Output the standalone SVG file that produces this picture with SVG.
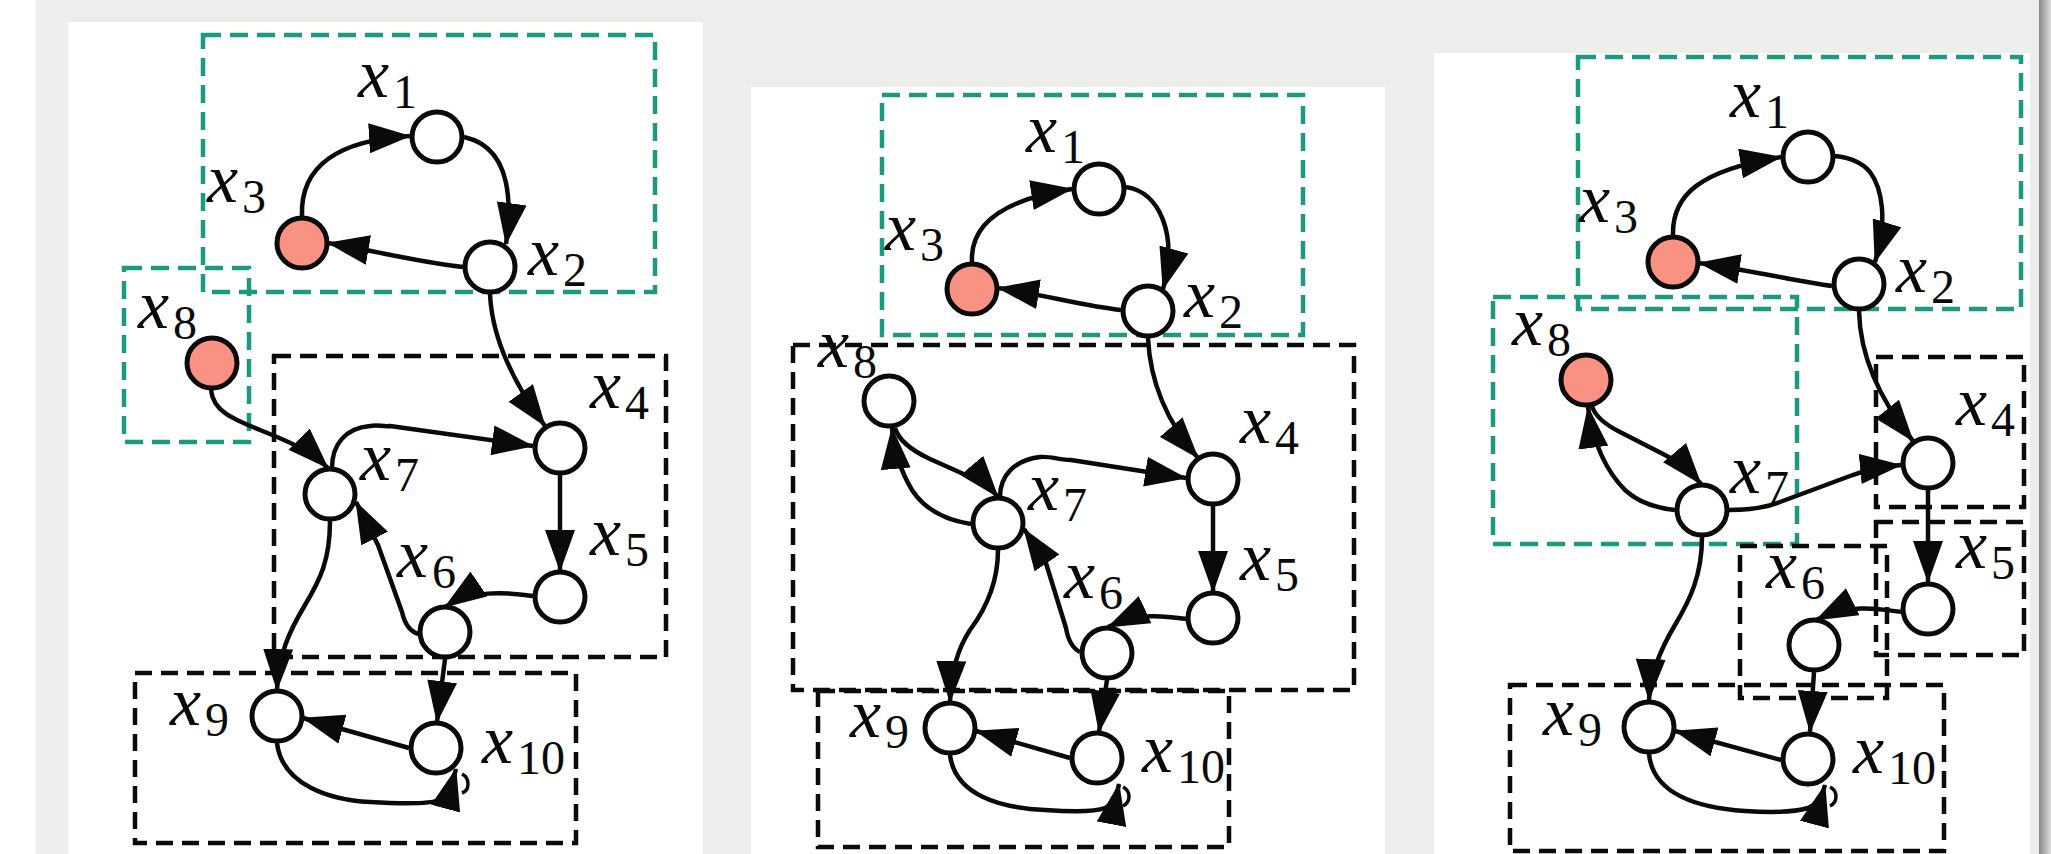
<svg xmlns="http://www.w3.org/2000/svg" width="2051" height="854" viewBox="0 0 2051 854">
  <defs>
    <style>
      .panel { fill: #ffffff; }
      .grp-teal { fill: none; stroke: #1c9a7f; stroke-width: 4.5; stroke-dasharray: 18 9; }
      .grp-black { fill: none; stroke: #0a0a0a; stroke-width: 4.5; stroke-dasharray: 17 9; }
      .node { fill: #ffffff; stroke: #0a0a0a; stroke-width: 5; }
      .node.obs { fill: #fa9283; }
      .edge { fill: none; stroke: #0a0a0a; stroke-width: 4.5; stroke-linejoin: round; marker-end: url(#ah); }
      .curl { fill: none; stroke: #0a0a0a; stroke-width: 3.5; }
      .lx { font-family: "Liberation Serif", "Times New Roman", serif; font-style: italic; font-size: 70px; fill: #0a0a0a; }
      .sb { font-style: normal; font-size: 48px; }
    </style>
    <marker id="ah" viewBox="0 0 42 30" markerUnits="userSpaceOnUse" markerWidth="42" markerHeight="30" refX="41" refY="15" orient="auto">
      <path d="M0,0 L42,15 L0,30 z" fill="#0a0a0a"/>
    </marker>
    <linearGradient id="shade" x1="0" y1="0" x2="1" y2="0">
      <stop offset="0" stop-color="#8a8a8a"/>
      <stop offset="0.35" stop-color="#a6a6a6"/>
      <stop offset="1" stop-color="#dedede"/>
    </linearGradient>
  </defs>

  <!-- page backdrop -->
  <rect x="0" y="0" width="2051" height="854" fill="#ffffff"/>
  <rect x="36" y="0" width="2003" height="854" fill="#ededeb"/>
  <rect x="2039" y="0" width="12" height="854" fill="url(#shade)"/>

  <!-- ================= panel 1 ================= -->
  <g id="panel1">
    <rect class="panel" x="68" y="22" width="635" height="832"/>
    <g id="p1-groups">
      <rect class="grp-teal" x="203" y="35" width="452" height="257"/>
      <rect class="grp-teal" x="124" y="268" width="125" height="174"/>
      <rect class="grp-black" x="274" y="356" width="392" height="301"/>
      <rect class="grp-black" x="135" y="673" width="441" height="170"/>
    </g>
    <g id="p1-edges">
      <path class="edge" d="M302,216 C300,165 340,140 410,136"/>
      <path class="edge" d="M464,137 C500,145 515,180 506,244"/>
      <path class="edge" d="M463,267 C425,263 385,253 328,243"/>
      <path class="edge" d="M490,294 C492,340 515,385 545,426"/>
      <path class="edge" d="M211,390 C213,410 230,418 260,430 C285,440 310,450 328,468"/>
      <path class="edge" d="M332,468 C332,445 345,428 370,426 C378,424 382,427 390,426 L533,446"/>
      <path class="edge" d="M560,475 L560,571"/>
      <path class="edge" d="M533,596 C505,592 470,590 445,607"/>
      <path class="edge" d="M419,634 C410,632 405,625 402,612 L378,545 L356,502"/>
      <path class="edge" d="M330,521 C330,560 320,580 305,605 C290,630 278,655 277,690"/>
      <path class="edge" d="M445,659 L437,722"/>
      <path class="edge" d="M409,748 L303,718"/>
      <path class="edge" d="M277,743 C282,785 330,800 370,802 C405,804 430,804 440,800 C447,797 451,788 456,769"/>
      <path class="curl" d="M462,774 C470,778 470,790 462,793"/>
    </g>
    <g id="p1-x1"><circle class="node" cx="437" cy="137" r="25"/><text class="lx" x="358" y="97">x<tspan class="sb" dx="4" dy="11">1</tspan></text></g>
    <g id="p1-x2"><circle class="node" cx="490" cy="267" r="25"/><text class="lx" x="528" y="275">x<tspan class="sb" dx="4" dy="11">2</tspan></text></g>
    <g id="p1-x3"><circle class="node obs" cx="302" cy="243" r="25"/><text class="lx" x="207" y="202">x<tspan class="sb" dx="4" dy="11">3</tspan></text></g>
    <g id="p1-x4"><circle class="node" cx="560" cy="448" r="25"/><text class="lx" x="590" y="408">x<tspan class="sb" dx="4" dy="11">4</tspan></text></g>
    <g id="p1-x5"><circle class="node" cx="560" cy="597" r="25"/><text class="lx" x="590" y="555">x<tspan class="sb" dx="4" dy="11">5</tspan></text></g>
    <g id="p1-x6"><circle class="node" cx="445" cy="632" r="25"/><text class="lx" x="397" y="577">x<tspan class="sb" dx="4" dy="11">6</tspan></text></g>
    <g id="p1-x7"><circle class="node" cx="330" cy="494" r="25"/><text class="lx" x="360" y="480">x<tspan class="sb" dx="4" dy="11">7</tspan></text></g>
    <g id="p1-x8"><circle class="node obs" cx="212" cy="363" r="25"/><text class="lx" x="138" y="328">x<tspan class="sb" dx="4" dy="11">8</tspan></text></g>
    <g id="p1-x9"><circle class="node" cx="277" cy="716" r="25"/><text class="lx" x="170" y="725">x<tspan class="sb" dx="4" dy="11">9</tspan></text></g>
    <g id="p1-x10"><circle class="node" cx="436" cy="748" r="25"/><text class="lx" x="482" y="763">x<tspan class="sb" dx="4" dy="11">10</tspan></text></g>
  </g>

  <!-- ================= panel 2 ================= -->
  <g id="panel2">
    <rect class="panel" x="751" y="87" width="634" height="767"/>
    <g id="p2-groups">
      <rect class="grp-teal" x="882" y="95" width="421" height="240"/>
      <rect class="grp-black" x="793" y="345" width="561" height="345"/>
      <rect class="grp-black" x="818" y="691" width="411" height="156"/>
    </g>
    <g id="p2-edges">
      <path class="edge" d="M972,262 C970,225 1000,200 1072,189"/>
      <path class="edge" d="M1126,187 C1160,192 1178,235 1163,289"/>
      <path class="edge" d="M1121,310 C1085,306 1050,296 998,288"/>
      <path class="edge" d="M1148,338 C1150,380 1165,420 1198,458"/>
      <path class="edge" d="M971,524 C945,520 925,510 912,490 C900,470 894,450 892,428"/>
      <path class="edge" d="M895,428 Q900,445 930,459 L968,476 Q988,485 998,497"/>
      <path class="edge" d="M1000,497 C1000,475 1015,460 1040,457 C1050,456 1060,460 1071,460 L1186,478"/>
      <path class="edge" d="M1213,506 L1213,592"/>
      <path class="edge" d="M1186,619 C1165,616 1140,612 1108,627"/>
      <path class="edge" d="M1080,652 C1072,648 1068,640 1066,628 L1045,560 L1024,529"/>
      <path class="edge" d="M998,550 C998,585 985,610 970,630 C958,648 951,670 950,702"/>
      <path class="edge" d="M1107,680 L1099,732"/>
      <path class="edge" d="M1070,758 L976,731"/>
      <path class="edge" d="M950,755 C955,795 1000,808 1045,810 C1075,812 1095,812 1105,808 C1112,805 1116,800 1119,784"/>
      <path class="curl" d="M1123,787 C1131,791 1131,802 1123,806"/>
    </g>
    <g id="p2-x1"><circle class="node" cx="1099" cy="189" r="25"/><text class="lx" x="1026" y="152">x<tspan class="sb" dx="4" dy="11">1</tspan></text></g>
    <g id="p2-x2"><circle class="node" cx="1148" cy="311" r="25"/><text class="lx" x="1184" y="317">x<tspan class="sb" dx="4" dy="11">2</tspan></text></g>
    <g id="p2-x3"><circle class="node obs" cx="972" cy="289" r="25"/><text class="lx" x="885" y="250">x<tspan class="sb" dx="4" dy="11">3</tspan></text></g>
    <g id="p2-x4"><circle class="node" cx="1213" cy="479" r="25"/><text class="lx" x="1240" y="443">x<tspan class="sb" dx="4" dy="11">4</tspan></text></g>
    <g id="p2-x5"><circle class="node" cx="1213" cy="618" r="25"/><text class="lx" x="1240" y="580">x<tspan class="sb" dx="4" dy="11">5</tspan></text></g>
    <g id="p2-x6"><circle class="node" cx="1107" cy="653" r="25"/><text class="lx" x="1064" y="598">x<tspan class="sb" dx="4" dy="11">6</tspan></text></g>
    <g id="p2-x7"><circle class="node" cx="998" cy="523" r="25"/><text class="lx" x="1028" y="510">x<tspan class="sb" dx="4" dy="11">7</tspan></text></g>
    <g id="p2-x8"><circle class="node" cx="889" cy="401" r="25"/><text class="lx" x="818" y="367">x<tspan class="sb" dx="4" dy="11">8</tspan></text></g>
    <g id="p2-x9"><circle class="node" cx="950" cy="728" r="25"/><text class="lx" x="850" y="737">x<tspan class="sb" dx="4" dy="11">9</tspan></text></g>
    <g id="p2-x10"><circle class="node" cx="1097" cy="758" r="25"/><text class="lx" x="1142" y="772">x<tspan class="sb" dx="4" dy="11">10</tspan></text></g>
  </g>

  <!-- ================= panel 3 ================= -->
  <g id="panel3">
    <rect class="panel" x="1434" y="53" width="596" height="801"/>
    <g id="p3-groups">
      <rect class="grp-teal" x="1578" y="57" width="443" height="252"/>
      <rect class="grp-teal" x="1493" y="297" width="304" height="247"/>
      <rect class="grp-black" x="1876" y="357" width="148" height="150"/>
      <rect class="grp-black" x="1876" y="522" width="148" height="133"/>
      <rect class="grp-black" x="1740" y="546" width="147" height="152"/>
      <rect class="grp-black" x="1510" y="685" width="434" height="166"/>
    </g>
    <g id="p3-edges">
      <path class="edge" d="M1673,235 C1672,195 1700,170 1781,157"/>
      <path class="edge" d="M1835,156 C1845,157 1860,160 1870,172 C1882,188 1888,220 1875,262"/>
      <path class="edge" d="M1832,286 C1800,282 1760,272 1699,263"/>
      <path class="edge" d="M1859,311 C1860,355 1880,400 1913,441"/>
      <path class="edge" d="M1675,510 C1655,508 1638,502 1625,490 C1608,473 1593,445 1588,407"/>
      <path class="edge" d="M1592,406 Q1596,420 1620,432 L1665,455 Q1685,465 1701,484"/>
      <path class="edge" d="M1729,510 C1745,510 1765,508 1780,502 L1850,476 Q1870,468 1901,465"/>
      <path class="edge" d="M1928,490 L1928,582"/>
      <path class="edge" d="M1901,612 C1880,609 1850,603 1816,620"/>
      <path class="edge" d="M1814,672 L1810,732"/>
      <path class="edge" d="M1702,537 C1702,575 1690,600 1675,625 C1660,650 1650,675 1649,700"/>
      <path class="edge" d="M1781,760 L1675,731"/>
      <path class="edge" d="M1649,754 C1653,795 1700,808 1745,811 C1775,813 1795,812 1808,808 C1816,805 1821,800 1825,785"/>
      <path class="curl" d="M1830,787 C1838,791 1838,802 1830,806"/>
    </g>
    <g id="p3-x1"><circle class="node" cx="1808" cy="157" r="25"/><text class="lx" x="1730" y="117">x<tspan class="sb" dx="4" dy="11">1</tspan></text></g>
    <g id="p3-x2"><circle class="node" cx="1859" cy="284" r="25"/><text class="lx" x="1896" y="292">x<tspan class="sb" dx="4" dy="11">2</tspan></text></g>
    <g id="p3-x3"><circle class="node obs" cx="1673" cy="262" r="25"/><text class="lx" x="1579" y="222">x<tspan class="sb" dx="4" dy="11">3</tspan></text></g>
    <g id="p3-x4"><circle class="node" cx="1928" cy="463" r="25"/><text class="lx" x="1956" y="425">x<tspan class="sb" dx="4" dy="11">4</tspan></text></g>
    <g id="p3-x5"><circle class="node" cx="1928" cy="609" r="25"/><text class="lx" x="1956" y="568">x<tspan class="sb" dx="4" dy="11">5</tspan></text></g>
    <g id="p3-x6"><circle class="node" cx="1814" cy="645" r="25"/><text class="lx" x="1766" y="588">x<tspan class="sb" dx="4" dy="11">6</tspan></text></g>
    <g id="p3-x7"><circle class="node" cx="1702" cy="510" r="25"/><text class="lx" x="1730" y="493">x<tspan class="sb" dx="4" dy="11">7</tspan></text></g>
    <g id="p3-x8"><circle class="node obs" cx="1586" cy="380" r="25"/><text class="lx" x="1512" y="345">x<tspan class="sb" dx="4" dy="11">8</tspan></text></g>
    <g id="p3-x9"><circle class="node" cx="1649" cy="727" r="25"/><text class="lx" x="1543" y="735">x<tspan class="sb" dx="4" dy="11">9</tspan></text></g>
    <g id="p3-x10"><circle class="node" cx="1808" cy="759" r="25"/><text class="lx" x="1853" y="773">x<tspan class="sb" dx="4" dy="11">10</tspan></text></g>
  </g>
</svg>
